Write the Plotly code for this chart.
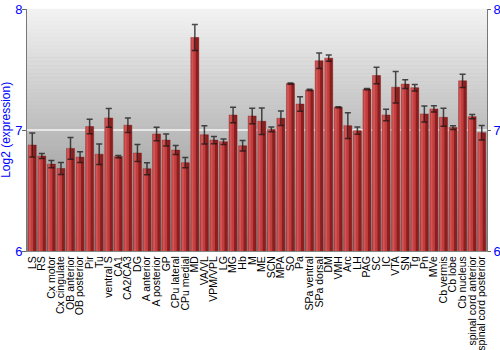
import plotly.graph_objects as go

regions = ["LS", "RS", "Cx motor", "Cx cingulate", "OB anterior", "OB posterior", "Pir", "Tu",
           "ventral S", "CA1", "CA2/CA3", "DG", "A anterior", "A posterior", "GP", "CPu lateral",
           "CPu medial", "MD", "VA/VL", "VPM/VPL", "LG", "MG", "Hb", "M", "ME", "SCN", "MPA", "SO",
           "Pa", "SPa ventral", "SPa dorsal", "DM", "VMH", "Arc", "LH", "PAG", "SC", "IC", "VTA",
           "SN", "Tg", "Pn", "MVe", "Cb vermis", "Cb lobe", "Cb nucleus", "spinal cord anterior",
           "spinal cord posterior"]

expression = [6.876, 6.785, 6.718, 6.682, 6.848, 6.776, 7.028, 6.80,
              7.10, 6.78, 7.04, 6.81, 6.68, 6.967, 6.917, 6.834,
              6.73, 7.765, 6.96, 6.917, 6.903, 7.124, 6.87, 7.116, 7.072, 7.005, 7.097, 7.384,
              7.215, 7.331, 7.572, 7.594, 7.188, 7.036, 6.994, 7.337, 7.45, 7.124, 7.354,
              7.38, 7.35, 7.133, 7.174, 7.105, 7.02, 7.406, 7.11,
              6.978]

errors = [0.10, 0.02, 0.03, 0.05, 0.09, 0.045, 0.06, 0.085,
          0.077, 0.01, 0.06, 0.07, 0.05, 0.056, 0.05, 0.037,
          0.043, 0.107, 0.075, 0.03, 0.022, 0.064, 0.043, 0.064, 0.11, 0.02, 0.06, 0.005,
          0.06, 0.005, 0.064, 0.025, 0.005, 0.107, 0.03, 0.005, 0.068, 0.048, 0.13,
          0.036, 0.027, 0.066, 0.026, 0.074, 0.015, 0.054, 0.018,
          0.06]

y_ticks = [6, 7, 8]
y_title = "Log2 (expression)"

fig = go.Figure()

# main bar body
fig.add_trace(go.Bar(
    x=regions, y=expression,
    width=0.84, offset=-0.42,
    marker=dict(color="#c23e3e", line=dict(color="rgba(120,20,20,0.6)", width=0.6)),
    hoverinfo="skip", showlegend=False,
))
# darker right-side shading of each bar
fig.add_trace(go.Bar(
    x=regions, y=expression,
    width=0.3, offset=0.1,
    marker=dict(color="rgba(120,20,20,0.75)", line=dict(width=0)),
    hoverinfo="skip", showlegend=False,
))
# lighter left highlight
fig.add_trace(go.Bar(
    x=regions, y=expression,
    width=0.2, offset=-0.36,
    marker=dict(color="rgba(230,110,110,0.45)", line=dict(width=0)),
    hoverinfo="skip", showlegend=False,
))
# error bars
fig.add_trace(go.Scatter(
    x=regions, y=expression, mode="markers",
    marker=dict(size=0.1, color="rgba(0,0,0,0)"),
    error_y=dict(type="data", array=errors, color="rgba(20,20,20,0.75)", thickness=1.5, width=3),
    hoverinfo="skip", showlegend=False,
))
# invisible trace to show right axis
fig.add_trace(go.Scatter(x=[regions[0]], y=[6], yaxis="y2", mode="markers",
                         marker=dict(opacity=0), hoverinfo="skip", showlegend=False))

# vertical gradient background (light top -> dark bottom)
n = 60
top = (242, 242, 242)
bot = (136, 136, 136)
shapes = []
for i in range(n):
    t = i / (n - 1)
    c = tuple(int(round(top[k] + (bot[k] - top[k]) * t)) for k in range(3))
    shapes.append(dict(type="rect", xref="paper", yref="paper",
                       x0=0, x1=1, y0=1 - (i + 1) / n, y1=1 - i / n + 0.001,
                       fillcolor="rgb(%d,%d,%d)" % c, line=dict(width=0), layer="below"))
shapes.append(dict(type="line", xref="paper", yref="y", x0=0, x1=1, y0=7, y1=7,
                   line=dict(color="rgba(255,255,255,0.85)", width=1.5), layer="below"))

fig.update_layout(
    width=500, height=350,
    margin=dict(l=27, r=13, t=9, b=99),
    paper_bgcolor="white", plot_bgcolor="#bbbbbb",
    barmode="overlay",
    shapes=shapes,
    font=dict(family="Liberation Sans, Arial, sans-serif"),
    annotations=[dict(text=y_title, xref="paper", yref="paper", x=-0.046, y=0.5,
                      xanchor="center", yanchor="middle", textangle=-90, showarrow=False,
                      font=dict(size=12, color="blue"))],
    xaxis=dict(
        type="category", tickangle=-90, tickfont=dict(size=10.5, color="black"),
        tickmode="array", tickvals=regions, ticktext=regions, automargin=False,
        showgrid=False, ticks="", showline=True, linecolor="#888888", mirror=False,
        range=[-0.55, len(regions) - 0.45],
    ),
    yaxis=dict(
        range=[6, 8], tickvals=y_ticks, ticktext=[str(v) for v in y_ticks],
        tickfont=dict(size=13, color="blue"), showgrid=False, automargin=False,
        ticks="outside", ticklen=4, tickcolor="#666666", ticklabelstandoff=-3,
        showline=True, linecolor="#777777", mirror=True, zeroline=False,
    ),
    yaxis2=dict(
        range=[6, 8], tickvals=y_ticks, overlaying="y", side="right", automargin=False,
        tickfont=dict(size=13, color="blue"), showgrid=False,
        ticks="outside", ticklen=3, tickcolor="#666666", showline=False, zeroline=False,
    ),
)

fig.write_html("out.html")
